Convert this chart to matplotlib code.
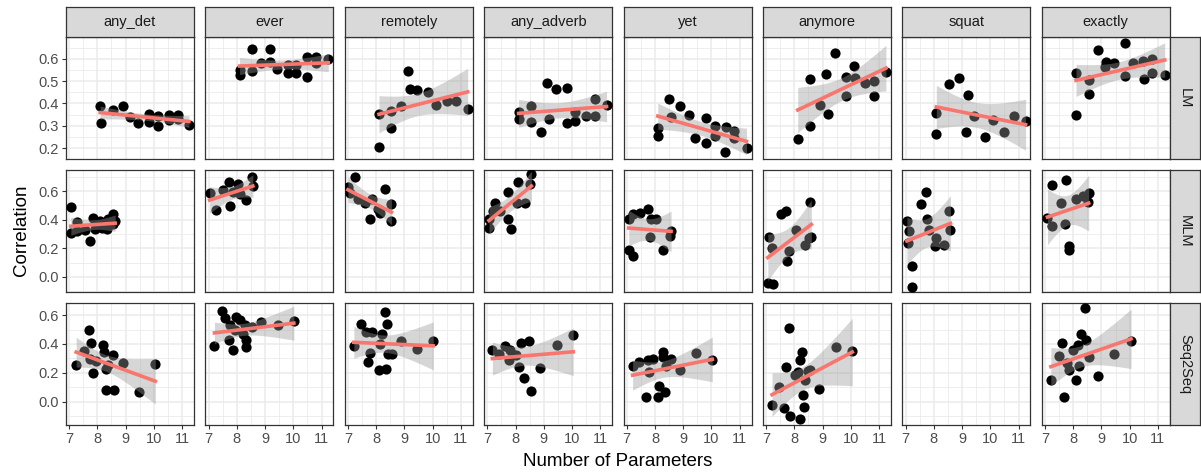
import numpy as np
import matplotlib.pyplot as plt
from matplotlib.ticker import MultipleLocator

plt.rcParams['font.family'] = ['Liberation Sans', 'DejaVu Sans']

words = ["any_det", "ever", "remotely", "any_adverb", "yet", "anymore", "squat", "exactly"]
models = ["LM", "MLM", "Seq2Seq"]

# LM row (x = log10 number of parameters, y = correlation)
lm_x = {
    "any_det": [8.10, 8.12, 8.57, 8.90, 9.17, 9.43, 9.84, 9.84, 10.14, 10.14, 10.53, 10.53, 10.85, 10.85, 11.24],
    "ever": [8.10, 8.10, 8.54, 8.54, 8.87, 9.19, 9.19, 9.43, 9.82, 9.82, 10.09, 10.09, 10.47, 10.47, 10.80, 10.80, 11.24],
    "remotely": [8.10, 8.10, 8.54, 8.54, 8.87, 9.13, 9.19, 9.43, 9.82, 10.11, 10.49, 10.82, 11.24],
    "any_adverb": [8.11, 8.11, 8.56, 8.54, 8.89, 9.13, 9.19, 9.43, 9.83, 9.83, 10.12, 10.12, 10.48, 10.81, 10.81, 11.22],
    "yet": [8.10, 8.10, 8.51, 8.57, 8.89, 9.20, 9.43, 9.82, 9.82, 10.11, 10.11, 10.47, 10.50, 10.80, 10.80, 11.24],
    "anymore": [8.12, 8.54, 8.54, 8.89, 9.20, 9.13, 9.43, 9.82, 9.82, 10.10, 10.15, 10.49, 10.81, 10.81, 11.24],
    "squat": [8.09, 8.09, 8.54, 8.89, 9.13, 9.21, 9.43, 9.83, 10.10, 10.48, 10.83, 11.25],
    "exactly": [8.10, 8.10, 8.55, 8.55, 8.89, 9.11, 9.17, 9.44, 9.82, 9.82, 10.11, 10.49, 10.47, 10.80, 10.80, 11.24],
}
lm_y = {
    "any_det": [0.386, 0.314, 0.369, 0.389, 0.337, 0.310, 0.351, 0.318, 0.344, 0.299, 0.347, 0.326, 0.347, 0.330, 0.302],
    "ever": [0.549, 0.526, 0.645, 0.546, 0.582, 0.645, 0.585, 0.552, 0.572, 0.535, 0.535, 0.570, 0.520, 0.609, 0.609, 0.582, 0.597],
    "remotely": [0.203, 0.354, 0.289, 0.366, 0.386, 0.545, 0.466, 0.460, 0.451, 0.392, 0.411, 0.411, 0.377],
    "any_adverb": [0.363, 0.329, 0.386, 0.317, 0.273, 0.490, 0.332, 0.463, 0.468, 0.311, 0.322, 0.362, 0.344, 0.344, 0.418, 0.392],
    "yet": [0.288, 0.252, 0.421, 0.341, 0.389, 0.347, 0.246, 0.336, 0.222, 0.300, 0.252, 0.183, 0.295, 0.277, 0.243, 0.200],
    "anymore": [0.240, 0.300, 0.508, 0.392, 0.354, 0.530, 0.627, 0.520, 0.433, 0.567, 0.515, 0.493, 0.500, 0.433, 0.542],
    "squat": [0.359, 0.265, 0.485, 0.512, 0.270, 0.436, 0.344, 0.250, 0.326, 0.273, 0.344, 0.322],
    "exactly": [0.347, 0.535, 0.441, 0.505, 0.639, 0.564, 0.585, 0.582, 0.671, 0.523, 0.579, 0.511, 0.590, 0.600, 0.538, 0.526],
}

# MLM row
mlm_x = {
    "any_det": [7.06, 7.06, 7.27, 7.27, 7.57, 7.75, 7.86, 7.92, 8.10, 8.16, 8.34, 8.36, 8.55, 8.57, 8.63],
    "ever": [7.04, 7.25, 7.53, 7.72, 7.75, 7.86, 8.04, 8.10, 8.34, 8.54, 8.57],
    "remotely": [7.24, 7.00, 7.06, 7.35, 7.59, 7.77, 7.86, 8.07, 8.12, 8.30, 8.54, 8.54],
    "any_adverb": [7.06, 7.06, 7.26, 7.20, 7.44, 7.73, 7.73, 7.85, 8.09, 8.05, 8.33, 8.50, 8.56],
    "yet": [7.07, 7.24, 7.09, 7.21, 7.47, 7.75, 7.86, 7.83, 8.04, 8.30, 8.57, 8.54],
    "anymore": [7.06, 7.24, 7.09, 7.21, 7.53, 7.71, 7.80, 7.73, 8.07, 8.54, 8.51, 8.36, 8.60],
    "squat": [7.05, 7.08, 7.14, 7.24, 7.24, 7.56, 7.73, 7.77, 7.83, 8.03, 8.09, 8.35, 8.54, 8.59],
    "exactly": [7.09, 7.25, 7.25, 7.57, 7.72, 7.75, 7.84, 7.84, 8.10, 8.34, 8.55, 8.51],
}
mlm_y = {
    "any_det": [0.489, 0.308, 0.383, 0.320, 0.327, 0.249, 0.414, 0.332, 0.391, 0.344, 0.332, 0.402, 0.438, 0.367, 0.391],
    "ever": [0.584, 0.468, 0.609, 0.666, 0.496, 0.591, 0.649, 0.579, 0.539, 0.696, 0.633],
    "remotely": [0.696, 0.626, 0.590, 0.544, 0.520, 0.402, 0.544, 0.473, 0.449, 0.614, 0.508, 0.391],
    "any_adverb": [0.344, 0.407, 0.520, 0.461, 0.461, 0.591, 0.402, 0.332, 0.661, 0.520, 0.520, 0.649, 0.720],
    "yet": [0.191, 0.148, 0.402, 0.438, 0.449, 0.473, 0.402, 0.280, 0.402, 0.186, 0.320, 0.285],
    "anymore": [-0.040, -0.049, 0.278, 0.202, 0.438, 0.461, 0.180, 0.109, 0.330, 0.525, 0.273, 0.226, 0.280],
    "squat": [0.391, 0.238, 0.320, 0.073, -0.068, 0.508, 0.591, 0.407, 0.327, 0.214, 0.273, 0.226, 0.461, 0.325],
    "exactly": [0.414, 0.642, 0.355, 0.520, 0.367, 0.680, 0.219, 0.186, 0.544, 0.567, 0.586, 0.525],
}

# Seq2Seq row (no squat results)
s2s_x = {
    "any_det": [7.25, 7.53, 7.69, 7.77, 7.75, 7.86, 7.96, 8.20, 8.22, 8.31, 8.36, 8.31, 8.55, 8.60, 8.91, 9.46, 10.05],
    "ever": [7.21, 7.49, 7.60, 7.75, 7.72, 7.86, 7.98, 8.12, 8.28, 8.22, 8.31, 8.31, 7.92, 8.55, 8.87, 9.46, 10.02],
    "remotely": [7.21, 7.47, 7.63, 7.71, 7.79, 7.86, 8.10, 8.12, 8.30, 8.34, 8.38, 8.22, 8.42, 8.57, 8.89, 9.43, 10.02],
    "any_adverb": [7.18, 7.41, 7.62, 7.77, 7.80, 8.03, 8.12, 8.21, 8.29, 8.48, 8.56, 8.88, 9.45, 10.04],
    "yet": [7.21, 7.45, 7.69, 7.78, 7.75, 7.92, 8.10, 8.16, 8.28, 8.34, 8.40, 8.28, 8.57, 8.87, 9.46, 10.03],
    "anymore": [7.21, 7.47, 7.65, 7.80, 7.71, 7.83, 8.01, 8.12, 8.21, 8.28, 8.21, 8.30, 8.33, 8.36, 8.48, 8.56, 8.87, 9.46, 10.05],
    "squat": [],
    "exactly": [7.21, 7.49, 7.60, 7.69, 7.77, 7.86, 7.98, 8.10, 8.16, 8.22, 8.28, 8.43, 8.46, 8.57, 8.87, 9.46, 10.05],
}
s2s_y = {
    "any_det": [0.257, 0.350, 0.500, 0.406, 0.296, 0.196, 0.280, 0.390, 0.343, 0.226, 0.257, 0.079, 0.320, 0.079, 0.266, 0.063, 0.261],
    "ever": [0.383, 0.630, 0.577, 0.530, 0.425, 0.360, 0.584, 0.565, 0.530, 0.472, 0.425, 0.378, 0.495, 0.514, 0.553, 0.530, 0.560],
    "remotely": [0.383, 0.537, 0.483, 0.273, 0.336, 0.483, 0.219, 0.400, 0.623, 0.226, 0.537, 0.472, 0.331, 0.327, 0.420, 0.362, 0.420],
    "any_adverb": [0.360, 0.331, 0.383, 0.289, 0.360, 0.320, 0.243, 0.406, 0.163, 0.420, 0.070, 0.231, 0.390, 0.460],
    "yet": [0.250, 0.273, 0.028, 0.203, 0.289, 0.296, 0.028, 0.110, 0.308, 0.067, 0.250, 0.343, 0.296, 0.219, 0.336, 0.289],
    "anymore": [-0.023, 0.098, -0.042, 0.507, 0.238, -0.100, 0.187, 0.203, -0.124, 0.343, 0.285, 0.047, -0.037, 0.149, 0.215, 0.219, 0.086, 0.378, 0.350],
    "squat": [],
    "exactly": [0.149, 0.313, 0.406, 0.028, 0.266, 0.219, 0.360, 0.149, 0.390, 0.250, 0.472, 0.647, 0.425, 0.308, 0.180, 0.331, 0.420],
}

row_data = [(lm_x, lm_y), (mlm_x, mlm_y), (s2s_x, s2s_y)]
row_ylim = [(0.151, 0.697), (-0.106, 0.748), (-0.163, 0.684)]
row_major = [0.1, 0.2, 0.2]


def t975(df):
    # Cornish-Fisher expansion of the t quantile
    z = 1.959964
    g1 = (z**3 + z) / 4
    g2 = (5 * z**5 + 16 * z**3 + 3 * z) / 96
    g3 = (3 * z**7 + 19 * z**5 + 17 * z**3 - 15 * z) / 384
    return z + g1 / df + g2 / df**2 + g3 / df**3


W, H = 1201, 472
fig = plt.figure(figsize=(W / 100, H / 100), dpi=100)

left0, pitch_x, pw = 66, 139.4, 128
tops, ph = [37, 170, 303], 122
dark = '#333333'

for r, model in enumerate(models):
    xd, yd = row_data[r]
    for c, word in enumerate(words):
        left = left0 + c * pitch_x
        top = tops[r]
        ax = fig.add_axes([left / W, 1 - (top + ph) / H, pw / W, ph / H])
        ax.set_xlim(6.89, 11.42)
        ax.set_ylim(*row_ylim[r])
        ax.xaxis.set_major_locator(MultipleLocator(1))
        ax.xaxis.set_minor_locator(MultipleLocator(0.5))
        ax.yaxis.set_major_locator(MultipleLocator(row_major[r]))
        ax.yaxis.set_minor_locator(MultipleLocator(row_major[r] / 2))
        ax.grid(which='major', color='#EBEBEB', lw=1.1)
        ax.grid(which='minor', color='#EBEBEB', lw=0.6)
        ax.set_axisbelow(True)
        for s in ax.spines.values():
            s.set_color(dark)
            s.set_linewidth(0.9)
        ax.tick_params(which='minor', length=0)
        ax.tick_params(which='major', length=3, width=0.8, color=dark,
                       labelsize=10.5, labelcolor='#4D4D4D', pad=2)
        if c != 0:
            ax.tick_params(axis='y', left=False, labelleft=False)
        if r != 2:
            ax.tick_params(axis='x', bottom=False, labelbottom=False)

        x = np.array(xd[word], dtype=float)
        y = np.array(yd[word], dtype=float)
        if len(x) > 2:
            ax.scatter(x, y, s=54, color='black', lw=0, zorder=3)
            b1, b0 = np.polyfit(x, y, 1)
            xs = np.linspace(x.min(), x.max(), 80)
            yhat = b0 + b1 * xs
            n = len(x)
            resid = y - (b0 + b1 * x)
            sig = np.sqrt(np.sum(resid**2) / (n - 2))
            sxx = np.sum((x - x.mean())**2)
            se = sig * np.sqrt(1 / n + (xs - x.mean())**2 / sxx)
            t = t975(n - 2)
            ax.fill_between(xs, yhat - t * se, yhat + t * se, color='#999999',
                            alpha=0.4, lw=0, zorder=4)
            ax.plot(xs, yhat, color='#F8766D', lw=2.6, zorder=5)

        # column strip on top row
        if r == 0:
            sax = fig.add_axes([left / W, 1 - 37 / H, pw / W, 30 / H])
            sax.set_facecolor('#D9D9D9')
            sax.set_xticks([])
            sax.set_yticks([])
            for s in sax.spines.values():
                s.set_color(dark)
                s.set_linewidth(0.9)
            sax.text(0.5, 0.5, word, ha='center', va='center', fontsize=10.5,
                     color='#1A1A1A', transform=sax.transAxes)

    # row strip on the right
    rax = fig.add_axes([1170 / W, 1 - (tops[r] + ph) / H, 30 / W, ph / H])
    rax.set_facecolor('#D9D9D9')
    rax.set_xticks([])
    rax.set_yticks([])
    for s in rax.spines.values():
        s.set_color(dark)
        s.set_linewidth(0.9)
    rax.text(0.5, 0.5, model, ha='center', va='center', rotation=-90,
             fontsize=10.5, color='#1A1A1A', transform=rax.transAxes)

fig.text(22 / W, 1 - 230 / H, 'Correlation', rotation=90, ha='center',
         va='center', fontsize=13.5, color='black')
fig.text(618 / W, 1 - 461 / H, 'Number of Parameters', ha='center',
         va='center', fontsize=13.5, color='black')

fig.savefig('out.png', dpi=100)
